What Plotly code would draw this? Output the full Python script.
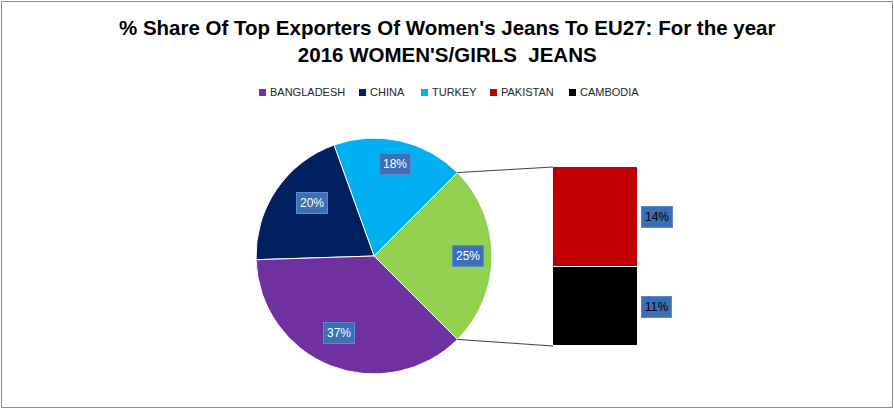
import math
import plotly.graph_objects as go

# ---------------- data ----------------
pie_labels = ["TURKEY", "CHINA", "BANGLADESH"]
pie_values = [18, 20, 37]
pie_colors = ["#00b0f0", "#002060", "#7030a0"]

bar_labels = ["CAMBODIA", "PAKISTAN"]          # bottom -> top
bar_values = [11, 14]
bar_colors = ["#000000", "#c00000"]

other_label = "Other"
other_color = "#92d050"

legend_order = ["BANGLADESH", "CHINA", "TURKEY", "PAKISTAN", "CAMBODIA"]

title_lines = ["% Share Of Top Exporters Of Women's Jeans To EU27: For the year",
               "2016 WOMEN'S/GIRLS  JEANS"]

# ---------------- layout constants ----------------
W, H = 894, 409
pie_cx, pie_cy, pie_r = 374, 256, 118          # pixels
bar_x0, bar_x1 = 553, 638
bar_top, bar_bot = 167, 346
legend_x = [259, 359, 421, 490, 569]           # left edge of each legend swatch (px)
legend_y = 92.5
swatch = 7

other_value = sum(bar_values)
all_pie_labels = [other_label] + pie_labels
all_pie_values = [other_value] + pie_values
all_pie_colors = [other_color] + pie_colors
total = sum(all_pie_values)

FONT = "Liberation Sans, Arial, sans-serif"

fig = go.Figure()

# pie (first slice 'Other' centred on 3 o'clock, counterclockwise)
half_other = other_value / total * 360 / 2
fig.add_trace(go.Pie(
    labels=all_pie_labels, values=all_pie_values,
    marker=dict(colors=all_pie_colors, line=dict(color="white", width=1)),
    sort=False, direction="counterclockwise", rotation=90 - half_other,
    textinfo="none", hoverinfo="label+percent", showlegend=False,
    domain=dict(x=[(pie_cx - pie_r) / W, (pie_cx + pie_r) / W],
                y=[1 - (pie_cy + pie_r) / H, 1 - (pie_cy - pie_r) / H]),
))

# stacked bar of the "Other" slice
for lab, val, col in zip(bar_labels, bar_values, bar_colors):
    fig.add_trace(go.Bar(
        x=[0], y=[val], name=lab, marker=dict(color=col, line=dict(color="white", width=1)),
        showlegend=False, width=1,
    ))

annotations = []
shapes = []
box = dict(bgcolor="#3b6fb6", bordercolor="#5a8bcc", borderwidth=1, borderpad=3,
           showarrow=False)
# pie labels
start = -half_other
for lab, val in zip(all_pie_labels, all_pie_values):
    span = val / total * 360
    mid = math.radians(start + span / 2)
    start += span
    px = pie_cx + 0.8 * pie_r * math.cos(mid)
    py = pie_cy - 0.8 * pie_r * math.sin(mid)
    annotations.append(dict(x=px / W, y=1 - py / H, xref="paper", yref="paper",
                            text=f"{val}%", font=dict(family=FONT, size=12, color="white"), **box))
# bar labels
cum = 0
for lab, val in zip(bar_labels, bar_values):
    annotations.append(dict(x=0.5, y=cum + val / 2, xref="x", yref="y", xanchor="left",
                            xshift=3, text=f"{val}%",
                            font=dict(family=FONT, size=12, color="#000000"), **box))
    cum += val

# title
annotations.append(dict(x=0.5, y=1 - 41 / H, xref="paper", yref="paper", xanchor="center",
                        yanchor="middle", showarrow=False, text="<br>".join(title_lines),
                        font=dict(family=FONT, size=20.5, color="#000000", weight="bold")))

# legend (swatch + label)
color_map = dict(zip(pie_labels + bar_labels, pie_colors + bar_colors))
for lab, lx in zip(legend_order, legend_x):
    shapes.append(dict(type="rect", xref="paper", yref="paper",
                       x0=lx / W, x1=(lx + swatch) / W,
                       y0=1 - (legend_y + swatch / 2) / H, y1=1 - (legend_y - swatch / 2) / H,
                       fillcolor=color_map[lab], line=dict(width=0)))
    annotations.append(dict(x=(lx + swatch + 2) / W, y=1 - legend_y / H, xref="paper",
                            yref="paper", xanchor="left", yanchor="middle", showarrow=False,
                            text=lab, font=dict(family=FONT, size=11, color="#262626")))

# connector lines (pie edge at slice boundary -> bar corners)
a = math.radians(half_other)
ex = pie_cx + pie_r * math.cos(a)
shapes += [
    dict(type="line", xref="paper", yref="paper",
         x0=ex / W, y0=1 - (pie_cy - pie_r * math.sin(a)) / H,
         x1=bar_x0 / W, y1=1 - bar_top / H, line=dict(color="#404040", width=1)),
    dict(type="line", xref="paper", yref="paper",
         x0=ex / W, y0=1 - (pie_cy + pie_r * math.sin(a)) / H,
         x1=bar_x0 / W, y1=1 - bar_bot / H, line=dict(color="#404040", width=1)),
    dict(type="rect", xref="paper", yref="paper", x0=1.5 / W, y0=1.5 / H,
         x1=1 - 1.5 / W, y1=1 - 1.5 / H, line=dict(color="#8c8c8c", width=1)),
]

fig.update_layout(
    width=W, height=H, margin=dict(l=0, r=0, t=0, b=0),
    paper_bgcolor="white", plot_bgcolor="rgba(0,0,0,0)",
    barmode="stack", bargap=0, showlegend=False,
    xaxis=dict(domain=[bar_x0 / W, bar_x1 / W], range=[-0.5, 0.5], visible=False, fixedrange=True),
    yaxis=dict(domain=[1 - bar_bot / H, 1 - bar_top / H], range=[0, other_value],
               visible=False, fixedrange=True),
    annotations=annotations, shapes=shapes,
)

fig.write_html("out.html", config={"displayModeBar": False},
               post_script="document.body.style.margin='0';document.body.style.padding='0';")
